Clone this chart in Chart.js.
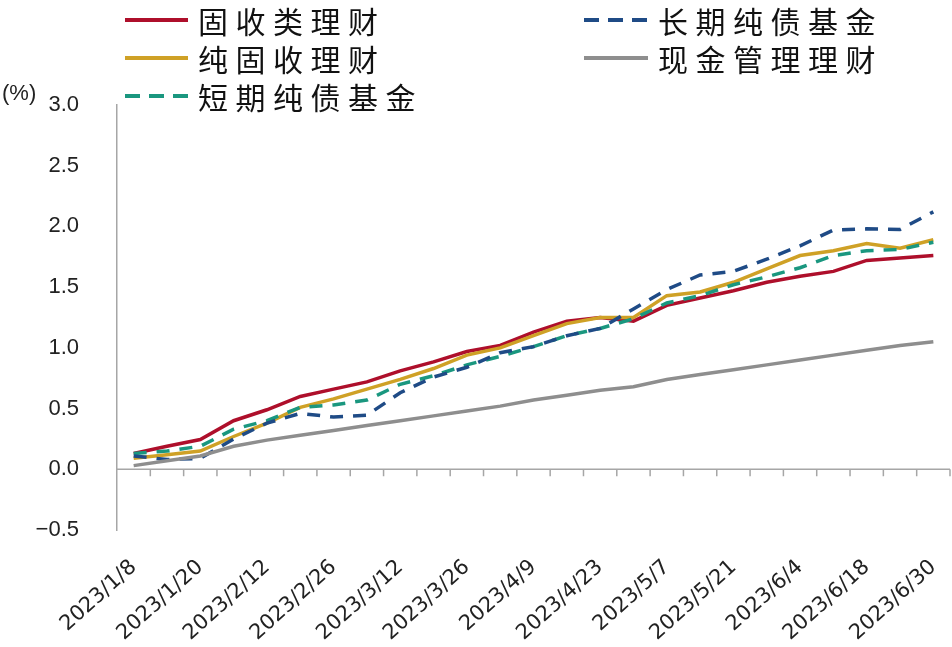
<!DOCTYPE html>
<html>
<head>
<meta charset="utf-8">
<script src="https://cdn.jsdelivr.net/npm/chart.js@4.4.1/dist/chart.umd.min.js"></script>
<style>
    body { margin: 0; background: #fff; }
    #marco { position: relative; width: 952px; height: 647px; }
    #grafico { position: absolute; left: 0; top: 0; }
    .leyenda { position: absolute; height: 38px; display: flex; align-items: center;
        font-family: "Noto Sans CJK SC", sans-serif; font-size: 30px; letter-spacing: 7.5px; color: #111; }
    .leyenda svg { margin-right: 10px; }
    #unidad { position: absolute; left: 2px; top: 80px; font-family: "Liberation Sans", Arial, sans-serif;
        font-size: 22px; color: #222; }
</style>
</head>
<body>
<div id="marco">
    <canvas id="grafico" width="952" height="647"></canvas>
    <div id="unidad">(%)</div>
    <div class="leyenda" style="left:125px; top:1px;"><svg width="63" height="8"><line x1="0" y1="4" x2="63" y2="4" stroke="#AE0F2B" stroke-width="4"/></svg>固收类理财</div>
    <div class="leyenda" style="left:125px; top:39px;"><svg width="63" height="8"><line x1="0" y1="4" x2="63" y2="4" stroke="#CFA126" stroke-width="4"/></svg>纯固收理财</div>
    <div class="leyenda" style="left:125px; top:77px;"><svg width="63" height="8"><line x1="0" y1="4" x2="63" y2="4" stroke="#1A977F" stroke-width="4" stroke-dasharray="15 9"/></svg>短期纯债基金</div>
    <div class="leyenda" style="left:584px; top:1px;"><svg width="64" height="8"><line x1="0" y1="4" x2="64" y2="4" stroke="#1F4B86" stroke-width="4" stroke-dasharray="15 9"/></svg>长期纯债基金</div>
    <div class="leyenda" style="left:584px; top:39px;"><svg width="64" height="8"><line x1="0" y1="4" x2="64" y2="4" stroke="#8E8E8E" stroke-width="4"/></svg>现金管理理财</div>
</div>
<script>

    /*
    =====================================
    DATOS
    =====================================
    */

    const fechas = [
        '2023/1/8', '2023/1/15', '2023/1/20', '2023/2/5', '2023/2/12',
        '2023/2/19', '2023/2/26', '2023/3/5', '2023/3/12', '2023/3/19',
        '2023/3/26', '2023/4/2', '2023/4/9', '2023/4/16', '2023/4/23',
        '2023/4/28', '2023/5/7', '2023/5/14', '2023/5/21', '2023/5/28',
        '2023/6/4', '2023/6/11', '2023/6/18', '2023/6/25', '2023/6/30'
    ];

    const fechasEtiqueta = [
        '2023/1/8', '2023/1/20', '2023/2/12', '2023/2/26', '2023/3/12',
        '2023/3/26', '2023/4/9', '2023/4/23', '2023/5/7', '2023/5/21',
        '2023/6/4', '2023/6/18', '2023/6/30'
    ];

    const guShouLei = [0.13, 0.19, 0.245, 0.40, 0.49, 0.60, 0.66, 0.72, 0.81, 0.885, 0.97, 1.02, 1.13,
        1.22, 1.25, 1.22, 1.35, 1.41, 1.47, 1.54, 1.59, 1.63, 1.72, 1.74, 1.76];

    const chunGuShou = [0.09, 0.12, 0.15, 0.27, 0.38, 0.51, 0.58, 0.66, 0.74, 0.83, 0.94, 1.00, 1.10,
        1.20, 1.25, 1.25, 1.43, 1.46, 1.54, 1.65, 1.76, 1.80, 1.86, 1.82, 1.89];

    const duanQiChunZhai = [0.13, 0.15, 0.19, 0.33, 0.40, 0.51, 0.53, 0.57, 0.70, 0.77, 0.86, 0.93, 1.01,
        1.10, 1.16, 1.24, 1.37, 1.43, 1.52, 1.585, 1.66, 1.76, 1.80, 1.81, 1.87];

    const changQiChunZhai = [0.11, 0.08, 0.09, 0.25, 0.38, 0.46, 0.43, 0.445, 0.63, 0.76, 0.84, 0.96, 1.01,
        1.10, 1.16, 1.32, 1.48, 1.60, 1.63, 1.73, 1.84, 1.97, 1.98, 1.975, 2.12];

    const xianJinGuanLi = [0.03, 0.07, 0.11, 0.19, 0.24, 0.28, 0.32, 0.36, 0.40, 0.44, 0.48, 0.52, 0.57,
        0.61, 0.65, 0.68, 0.74, 0.78, 0.82, 0.86, 0.90, 0.94, 0.98, 1.02, 1.05];

    const ejeY = { min: -0.5, max: 3.0, paso: 0.5 };


    /*
    =====================================
    EJE EN CERO
    =====================================
    */

    const ejeCero = {
        id: 'ejeCero',
        beforeDatasetsDraw(chart) {
            const { ctx, chartArea, scales } = chart;
            const y0 = scales.y.getPixelForValue(0);
            const medio = (scales.x.getPixelForValue(1) - scales.x.getPixelForValue(0)) / 2;
            ctx.save();
            ctx.strokeStyle = '#A6A6A6';
            ctx.lineWidth = 1.5;
            ctx.beginPath();
            ctx.moveTo(chartArea.left, y0);
            ctx.lineTo(chartArea.right, y0);
            fechas.forEach((f, i) => {
                const x = scales.x.getPixelForValue(i) + medio;
                ctx.moveTo(x, y0);
                ctx.lineTo(x, y0 + 7);
            });
            ctx.stroke();
            ctx.restore();
        }
    };


    /*
    =====================================
    GRÁFICO
    =====================================
    */

    const serie = (datos, color, discontinua) => ({
        data: datos,
        borderColor: color,
        backgroundColor: color,
        borderWidth: 3.5,
        borderDash: discontinua ? [13, 10] : [],
        pointRadius: 0,
        tension: 0,
        fill: false
    });

    new Chart(document.getElementById('grafico'), {
        type: 'line',
        data: {
            labels: fechas,
            datasets: [
                serie(xianJinGuanLi, '#8E8E8E', false),
                serie(changQiChunZhai, '#1F4B86', true),
                serie(duanQiChunZhai, '#1A977F', true),
                serie(chunGuShou, '#CFA126', false),
                serie(guShouLei, '#AE0F2B', false)
            ]
        },
        options: {
            responsive: false,
            animation: false,
            layout: { padding: { top: 105, right: 2, left: 0, bottom: 0 } },
            plugins: {
                legend: { display: false },
                tooltip: { enabled: false }
            },
            scales: {
                x: {
                    offset: true,
                    grid: { display: false },
                    border: { display: false },
                    afterFit: s => {
                        s.height = 117;
                        s.paddingLeft = 0;
                        s.paddingRight = 0;
                    },
                    ticks: {
                        autoSkip: false,
                        minRotation: 42,
                        maxRotation: 42,
                        padding: 17,
                        color: '#222',
                        font: { family: 'DejaVu Sans', size: 21 },
                        callback: function (valor) {
                            const texto = this.getLabelForValue(valor);
                            return fechasEtiqueta.includes(texto) ? texto : '';
                        }
                    }
                },
                y: {
                    min: ejeY.min,
                    max: ejeY.max,
                    grid: { display: false },
                    border: { display: true, color: '#A6A6A6', width: 1.5 },
                    afterFit: s => { s.width = 117; },
                    ticks: {
                        stepSize: ejeY.paso,
                        padding: 30,
                        color: '#222',
                        font: { family: 'Liberation Sans', size: 22 },
                        callback: v => (v < 0 ? '\u2212' : '') + Math.abs(v).toFixed(1)
                    }
                }
            }
        },
        plugins: [ejeCero]
    });

</script>
</body>
</html>
